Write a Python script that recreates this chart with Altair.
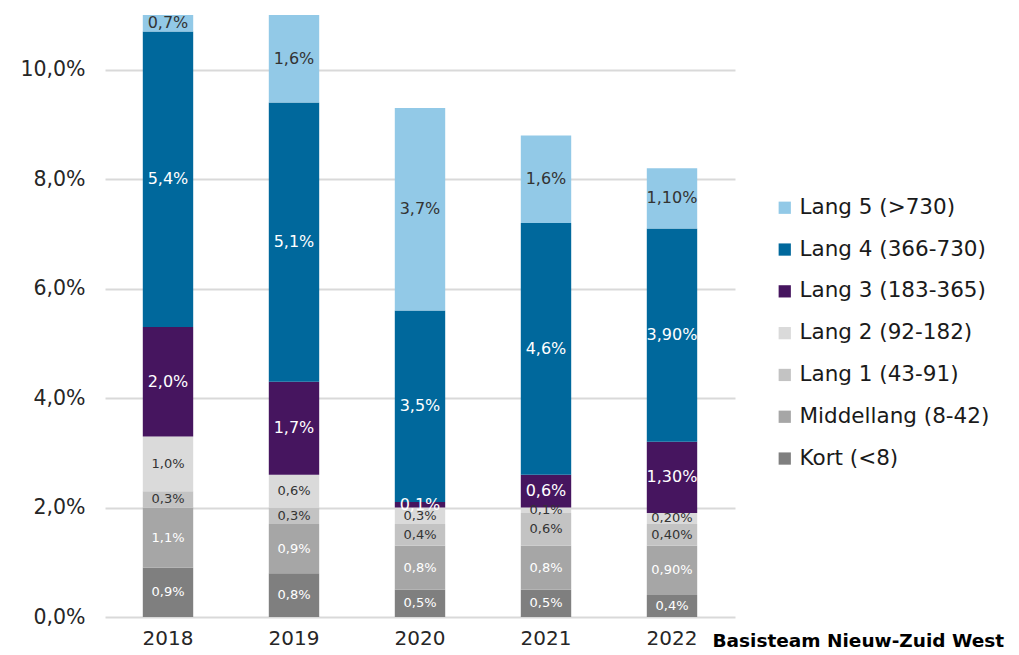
import altair as alt
import pandas as pd

years = ["2018", "2019", "2020", "2021", "2022"]
series = ["Kort (<8)", "Middellang (8-42)", "Lang 1 (43-91)", "Lang 2 (92-182)",
          "Lang 3 (183-365)", "Lang 4 (366-730)", "Lang 5 (>730)"]

kort = [0.9, 0.8, 0.5, 0.5, 0.4]
middellang = [1.1, 0.9, 0.8, 0.8, 0.9]
lang1 = [0.3, 0.3, 0.4, 0.6, 0.4]
lang2 = [1.0, 0.6, 0.3, 0.1, 0.2]
lang3 = [2.0, 1.7, 0.1, 0.6, 1.3]
lang4 = [5.4, 5.1, 3.5, 4.6, 3.9]
lang5 = [0.7, 1.6, 3.7, 1.6, 1.1]

lbl_kort = ["0,9%", "0,8%", "0,5%", "0,5%", "0,4%"]
lbl_middellang = ["1,1%", "0,9%", "0,8%", "0,8%", "0,90%"]
lbl_lang1 = ["0,3%", "0,3%", "0,4%", "0,6%", "0,40%"]
lbl_lang2 = ["1,0%", "0,6%", "0,3%", "0,1%", "0,20%"]
lbl_lang3 = ["2,0%", "1,7%", "0,1%", "0,6%", "1,30%"]
lbl_lang4 = ["5,4%", "5,1%", "3,5%", "4,6%", "3,90%"]
lbl_lang5 = ["0,7%", "1,6%", "3,7%", "1,6%", "1,10%"]

colors = ["#7f7f7f", "#a6a6a6", "#c3c3c3", "#dadada", "#46155f", "#00689c", "#92c9e7"]

y_max = 11.0

values = [kort, middellang, lang1, lang2, lang3, lang4, lang5]
labels = [lbl_kort, lbl_middellang, lbl_lang1, lbl_lang2, lbl_lang3, lbl_lang4, lbl_lang5]

rows = []
for si, (s, vals, lbls) in enumerate(zip(series, values, labels)):
    for y, v, l in zip(years, vals, lbls):
        rows.append({"jaar": y, "reeks": s, "waarde": v, "label": l, "volgorde": si})
df = pd.DataFrame(rows)

base = alt.Chart(df).transform_stack(
    stack="waarde", groupby=["jaar"], as_=["start", "eind"],
    sort=[alt.SortField("volgorde", order="ascending")]
).transform_calculate(
    mid=f"(datum.start + min(datum.eind, {y_max})) / 2"
)

x_enc = alt.X("jaar:N", sort=years,
              scale=alt.Scale(paddingInner=0.6, paddingOuter=0.3),
              axis=alt.Axis(title="Basisteam Nieuw-Zuid West", labelAngle=0,
                            labelFont="DejaVu Sans", labelFontSize=20, labelColor="#262626",
                            labelPadding=11, ticks=False, domain=False,
                            titleFont="DejaVu Sans", titleFontSize=18.5, titleFontWeight="bold",
                            titleColor="#000000", titleAlign="left", titleBaseline="middle",
                            titleX=607, titleY=23, titleAnchor="start"))

y_scale = alt.Scale(domain=[0, y_max], nice=False, zero=True)

bars = base.mark_bar(clip=True).encode(
    x=x_enc,
    y=alt.Y("start:Q", scale=y_scale,
            axis=alt.Axis(title=None, values=[0, 2, 4, 6, 8, 10],
                          labelExpr="replace(format(datum.value, '.1f'), '.', ',') + '%'",
                          labelFont="DejaVu Sans", labelFontSize=20.5, labelColor="#262626",
                          labelPadding=20, ticks=False, domain=False,
                          grid=True, gridColor="#d9d9d9", gridWidth=2)),
    y2="eind:Q",
    color=alt.Color("reeks:N", sort=series[::-1],
                    scale=alt.Scale(domain=series[::-1], range=colors[::-1]),
                    legend=alt.Legend(title=None, orient="none", legendX=669, legendY=182,
                                      symbolType="square", symbolSize=150,
                                      symbolStrokeWidth=0, labelFont="DejaVu Sans",
                                      labelFontSize=21.5, labelColor="#1a1a1a",
                                      labelLimit=400, rowPadding=18.8, labelOffset=4)),
)

dark_series = "indexof(['Kort (<8)', 'Middellang (8-42)', 'Lang 3 (183-365)', 'Lang 4 (366-730)'], datum.reeks) >= 0"
big_series = "indexof(['Lang 3 (183-365)', 'Lang 4 (366-730)', 'Lang 5 (>730)'], datum.reeks) >= 0"

texts = base.mark_text(font="DejaVu Sans", baseline="middle", align="center").encode(
    x=alt.X("jaar:N", sort=years),
    y=alt.Y("mid:Q", scale=y_scale),
    text="label:N",
    color=alt.condition(dark_series, alt.value("#ffffff"), alt.value("#333333")),
    size=alt.condition(big_series, alt.value(16), alt.value(13)),
)

chart = alt.layer(bars, texts).properties(
    width=630, height=602,
    padding={"left": 97, "top": 7, "right": 276, "bottom": 36},
    autosize=alt.AutoSizeParams(type="none"),
).configure_view(stroke=None)

chart.save("out.html", embed_options={"renderer": "svg", "actions": False})
